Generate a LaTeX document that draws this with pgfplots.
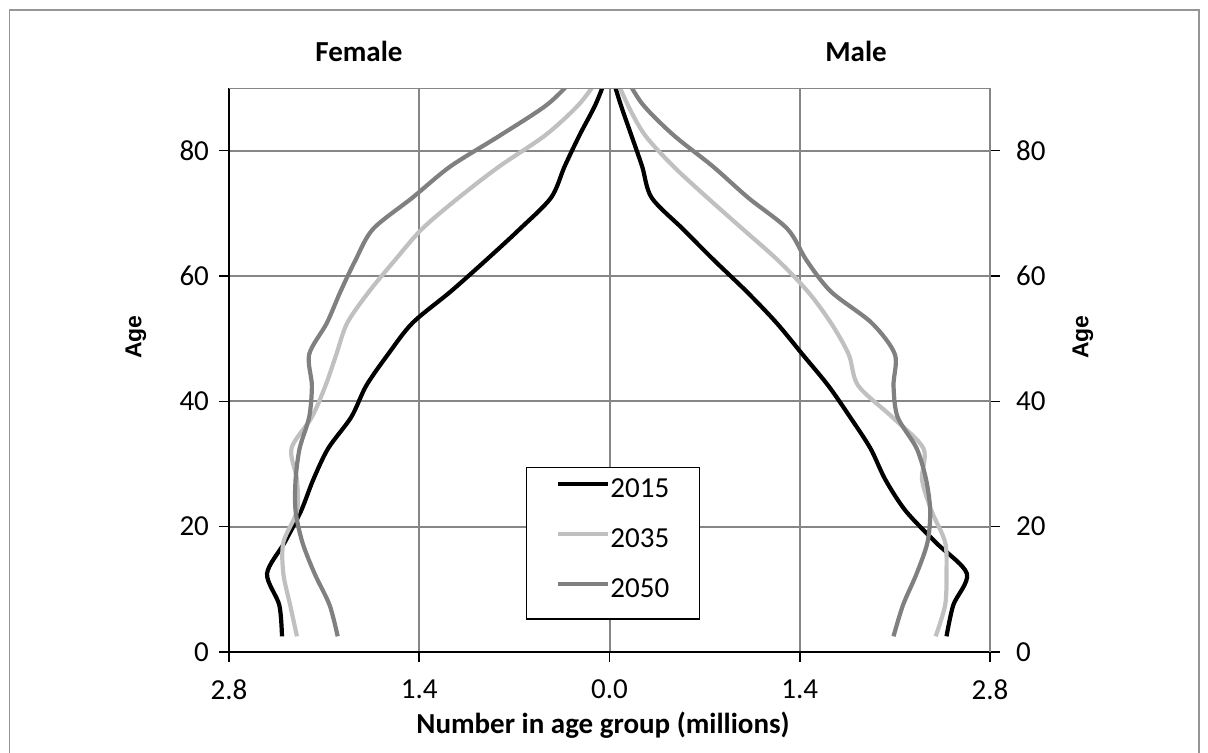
\documentclass[border=0pt]{standalone}
\usepackage{fontspec}
\setmainfont{Carlito}
\newfontfamily\arialfont{Liberation Sans}
\usepackage{pgfplots}
\pgfplotsset{compat=1.18}
\usepackage{pgfplotstable}
\definecolor{c15}{RGB}{0,0,0}
\definecolor{c35}{RGB}{192,192,192}
\definecolor{c50}{RGB}{128,128,128}
\definecolor{gridc}{RGB}{134,134,134}
\definecolor{framec}{RGB}{150,150,150}

\pgfplotstableread{
age  f15   f35   f50   m15  m35  m50
2.5  -2.41 -2.30 -2.00 2.48 2.40 2.09
7.5  -2.43 -2.35 -2.06 2.53 2.47 2.16
12.5 -2.52 -2.40 -2.17 2.63 2.48 2.26
17.5 -2.39 -2.40 -2.26 2.40 2.47 2.34
22.5 -2.27 -2.30 -2.31 2.18 2.37 2.36
27.5 -2.18 -2.30 -2.31 2.03 2.30 2.33
32.5 -2.07 -2.34 -2.28 1.92 2.31 2.26
37.5 -1.90 -2.19 -2.21 1.77 2.08 2.12
42.5 -1.79 -2.09 -2.19 1.61 1.83 2.09
47.5 -1.63 -2.01 -2.21 1.42 1.76 2.10
52.5 -1.45 -1.93 -2.08 1.23 1.63 1.93
57.5 -1.17 -1.77 -1.98 1.01 1.46 1.63
62.5 -0.91 -1.58 -1.87 0.77 1.24 1.45
67.5 -0.66 -1.38 -1.74 0.54 0.98 1.31
72.5 -0.43 -1.11 -1.45 0.31 0.72 1.02
77.5 -0.33 -0.81 -1.17 0.24 0.47 0.76
82.5 -0.22 -0.47 -0.80 0.16 0.26 0.47
87.5 -0.10 -0.22 -0.45 0.08 0.13 0.24
92.5 -0.01 -0.05 -0.22 0.01 0.03 0.10
}\pyramid

\newcommand\chartfont{\fontsize{14.5pt}{17pt}\selectfont}

\begin{document}
\chartfont
\begin{tikzpicture}
\begin{axis}[
  at={(0,0)}, anchor=south west,
  scale only axis, width=380.5pt, height=282pt,
  xmin=-2.8, xmax=2.8, ymin=0, ymax=90,
  axis lines*=left,
  axis line style={black, line width=0.9pt},
  xtick={-2.8,-1.4,0,1.4,2.8},
  xticklabels={2.8,1.4,0.0,1.4,2.8},
  ytick={0,20,40,60,80},
  /pgf/number format/assume math mode=true,
  tick align=outside, major tick length=5pt,
  tick style={black, line width=0.8pt},
  grid=major,
  major grid style={gridc, line width=1pt},
  ticklabel style={font=\chartfont},
  xticklabel style={yshift=-4pt},
  xlabel={\bfseries Number in age group (millions)},
  xlabel style={at={(axis description cs:0.4915,0)}, anchor=center, yshift=-36.5pt},
  ylabel={\arialfont\bfseries\fontsize{11.5pt}{13pt}\selectfont Age},
  ylabel style={at={(axis description cs:-0.1222,0.5585)}, anchor=center},
  clip=true,
  legend style={at={(rel axis cs:0.390,0.3285)}, anchor=north west,
    draw=black, line width=0.7pt, fill=white,
    inner xsep=15pt, inner ysep=4.9pt, row sep=9pt,
    nodes={inner sep=0pt, text height=10pt, text depth=6pt},
    font=\chartfont},
  legend cell align=left,
  legend image code/.code={\draw[#1, line width=2pt] (0pt,4.6pt) -- (25pt,4.6pt);},
  every axis plot/.append style={line width=2.1pt, smooth, tension=0.5},
]
\addplot[c15] table[x=f15, y=age] {\pyramid};
\addplot[c35] table[x=f35, y=age] {\pyramid};
\addplot[c50] table[x=f50, y=age] {\pyramid};
\legend{2015,2035,2050}
\addplot[c15, forget plot] table[x=m15, y=age] {\pyramid};
\addplot[c35, forget plot] table[x=m35, y=age] {\pyramid};
\addplot[c50, forget plot] table[x=m50, y=age] {\pyramid};
\draw[gridc, line width=1pt] (rel axis cs:0,1) -- (rel axis cs:1,1);
\end{axis}
\begin{axis}[
  at={(0,0)}, anchor=south west,
  scale only axis, width=380.5pt, height=282pt,
  xmin=-2.8, xmax=2.8, ymin=0, ymax=90,
  axis y line*=right, axis x line=none,
  y axis line style={gridc, line width=1pt},
  ytick={0,20,40,60,80},
  /pgf/number format/assume math mode=true,
  tick align=outside, major tick length=5pt,
  tick style={black, line width=0.8pt},
  ticklabel style={font=\chartfont},
  yticklabel style={xshift=3pt},
  ylabel={\arialfont\bfseries\fontsize{11.5pt}{13pt}\selectfont Age},
  ylabel style={at={(axis description cs:1.1222,0.5585)}, anchor=center},
  clip=false,
]
\node[font=\bfseries\chartfont] at (rel axis cs:0.1708,1.0656) {Female};
\node[font=\bfseries\chartfont] at (rel axis cs:0.824,1.0656) {Male};
\end{axis}
\draw[framec, line width=0.9pt] (-109.75pt,-50.5pt) -- (-109.75pt,321pt) -- (485pt,321pt) -- (485pt,-50.5pt);
\pgfresetboundingbox
\path (-114.5pt,-50.5pt) rectangle (489.5pt,326pt);
\end{tikzpicture}
\end{document}
